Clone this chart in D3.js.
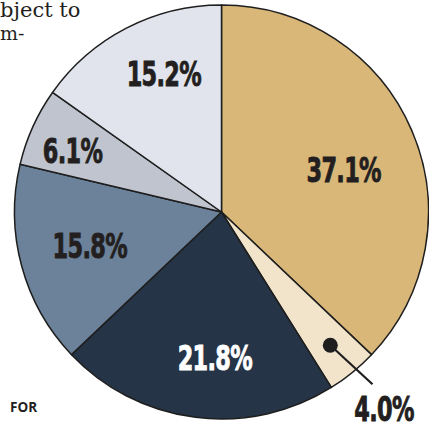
<!DOCTYPE html>
<html>
<head>
<meta charset="utf-8">
<script src="https://cdn.jsdelivr.net/npm/d3@7"></script>
<style>
  html, body { margin: 0; padding: 0; background: #ffffff; }
  svg { display: block; }
</style>
</head>
<body>
<div id="pie"></div>
<script>
// shares, clockwise from 12 o'clock
const labels = ["37.1%", "4.0%", "21.8%", "15.8%", "6.1%", "15.2%"];
const shares = [37.1, 4.0, 21.8, 15.8, 6.1, 15.2];
const colors = ["#d9b778", "#f2e4ca", "#253446", "#6c829a", "#bfc4cf", "#e1e4ed"];
const textColors = ["#231f20", "#231f20", "#ffffff", "#231f20", "#231f20", "#231f20"];

const width = 429;
const height = 425;
const cx = 221.5;
const cy = 212;
const radius = 207;

const svg = d3.select("#pie").append("svg")
  .attr("width", width)
  .attr("height", height);

// surrounding article text, cropped by the frame
svg.append("text")
  .attr("x", 0).attr("y", 17)
  .attr("font-family", "'DejaVu Serif', serif")
  .attr("font-size", "21px")
  .attr("fill", "#231f20")
  .text("bject to");

svg.append("text")
  .attr("x", 0).attr("y", 40)
  .attr("font-family", "'DejaVu Serif', serif")
  .attr("font-size", "19px")
  .attr("fill", "#231f20")
  .text("m-");

svg.append("text")
  .attr("x", 10).attr("y", 412)
  .attr("font-family", "'Open Sans', 'Liberation Sans', sans-serif")
  .attr("font-weight", "bold")
  .attr("font-size", "13.5px")
  .attr("fill", "#231f20")
  .text("FOR");

const data = shares.map((v, i) => ({ label: labels[i], value: v, color: colors[i], tc: textColors[i] }));

const pie = d3.pie()
  .value(d => d.value)
  .sort(null);

const arcs = pie(data);

const arc = d3.arc()
  .innerRadius(0)
  .outerRadius(radius);

const g = svg.append("g")
  .attr("transform", `translate(${cx},${cy})`);

g.selectAll("path")
  .data(arcs)
  .join("path")
  .attr("d", arc)
  .attr("fill", d => d.data.color)
  .attr("stroke", "#1e1e1e")
  .attr("stroke-width", 1.5)
  .attr("stroke-linejoin", "round");

// label ring + small nudges per slice (degrees)
const labelR = [129, 0, 146, 136, 161, 149];
const labelAngleShift = [4.5, 0, -4.6, 0.7, -2, 4.6];

// condensed heavy look: bold DejaVu squeezed horizontally
function bigLabel(parent, x, y, txt, fill) {
  parent.append("g")
    .attr("transform", `translate(${x},${y}) scale(0.68,1)`)
    .append("text")
    .attr("dy", "0.36em")
    .attr("text-anchor", "middle")
    .attr("font-family", "'DejaVu Sans', sans-serif")
    .attr("font-weight", "bold")
    .attr("font-size", "33px")
    .attr("letter-spacing", "-1px")
    .attr("fill", fill)
    .attr("stroke", fill)
    .attr("stroke-width", 0.9)
    .text(txt);
}

arcs.forEach((a, i) => {
  if (i === 1) return; // small slice uses callout
  const mid = (a.startAngle + a.endAngle) / 2 + labelAngleShift[i] * Math.PI / 180;
  const r = labelR[i];
  bigLabel(g, Math.sin(mid) * r, -Math.cos(mid) * r, a.data.label, a.data.tc);
});

// callout for the 4.0% slice
const small = arcs[1];
const sm = (small.startAngle + small.endAngle) / 2;
const dotR = 172;
const lineR = 229;

g.append("line")
  .attr("x1", Math.sin(sm) * dotR)
  .attr("y1", -Math.cos(sm) * dotR)
  .attr("x2", Math.sin(sm - 0.035) * lineR)
  .attr("y2", -Math.cos(sm - 0.035) * lineR)
  .attr("stroke", "#1e1e1e")
  .attr("stroke-width", 2.2);

g.append("circle")
  .attr("cx", Math.sin(sm) * dotR)
  .attr("cy", -Math.cos(sm) * dotR)
  .attr("r", 7.5)
  .attr("fill", "#1e1e1e");

bigLabel(svg, 384, 409, small.data.label, "#231f20");
</script>
</body>
</html>
